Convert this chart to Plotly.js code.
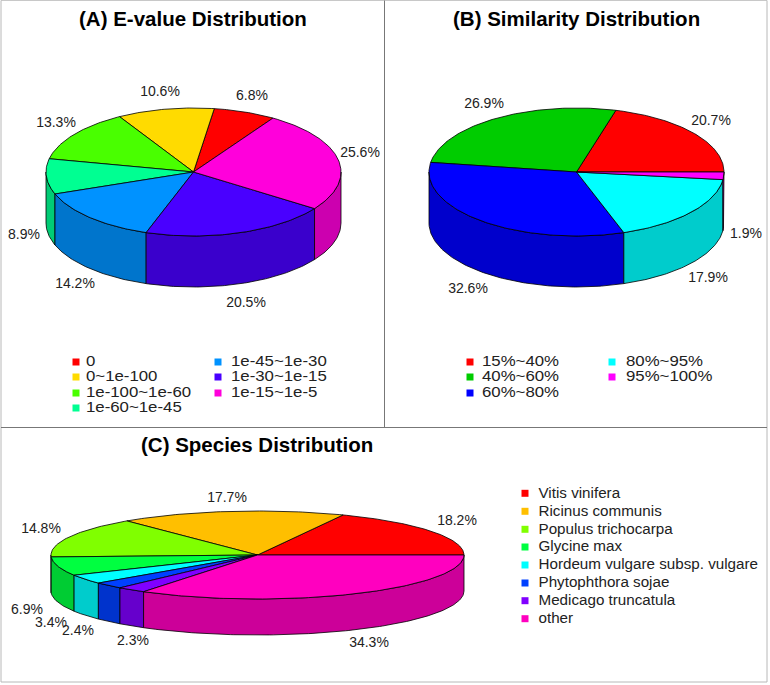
<!DOCTYPE html>
<html>
<head>
<meta charset="utf-8">
<script src="https://cdn.plot.ly/plotly-3.0.1.min.js"></script>
<style>html,body{margin:0;padding:0;background:#fff;overflow:hidden}</style>
</head>
<body>
<div id="chart" style="width:770px;height:685px"></div>
<script>
// ---------- data ----------
const evalueCats = ['0','0~1e-100','1e-100~1e-60','1e-60~1e-45','1e-45~1e-30','1e-30~1e-15','1e-15~1e-5'];
const evalueVals = [6.8,10.6,13.3,8.9,14.2,20.5,25.6];
const evalueCols = ['#FF0000','#FFDB00','#49FF00','#00FF92','#0092FF','#4900FF','#FF00DB'];

const simCats = ['15%~40%','40%~60%','60%~80%','80%~95%','95%~100%'];
const simVals = [20.7,26.9,32.6,17.9,1.9];
const simCols = ['#FF0000','#00CC00','#0000FF','#00FFFF','#FF00FF'];

const speciesCats = ['Vitis vinifera','Ricinus communis','Populus trichocarpa','Glycine max','Hordeum vulgare subsp. vulgare','Phytophthora sojae','Medicago truncatula','other'];
const speciesVals = [18.2,17.7,14.8,6.9,3.4,2.4,2.3,34.3];
const speciesCols = ['#FF0000','#FFBF00','#80FF00','#00FF40','#00FFFF','#0040FF','#8000FF','#FF00BF'];

// ---------- layout of each panel (pixel space of the page) ----------
const panels = [
  {title:'(A) E-value Distribution', tx:193, ty:18, cats:evalueCats, vals:evalueVals, cols:evalueCols,
   cx:193.5, cy:172, rx:147.5, ry:64, depth:51, start:57.4, legendSize:14, legendStretch:1.2,
   labelX:[252,160,56,24,75,246,360], labelY:[96,92,123,235,284,303,153],
   legendMarkerX:[76,76,76,76,218,218,218], legendTextX:[86,86,86,86,231,231,231], legendY:[362,377,393,408,362,377,393]},
  {title:'(B) Similarity Distribution', tx:576, ty:18, cats:simCats, vals:simVals, cols:simCols,
   cx:576.5, cy:172, rx:147.5, ry:64, depth:51, start:0, legendSize:14, legendStretch:1.2,
   labelX:[711,484,468,708,746], labelY:[121,104,289,278,234],
   legendMarkerX:[470,470,470,612,612], legendTextX:[482,482,482,626,626], legendY:[362,377,393,362,377]},
  {title:'(C) Species Distribution', tx:257, ty:444, cats:speciesCats, vals:speciesVals, cols:speciesCols,
   cx:257.5, cy:555, rx:206.5, ry:44, depth:36, start:0, legendSize:15.2, legendStretch:1,
   labelX:[457,227,41,27,51,78,133,369], labelY:[521,498,529,610,623,631,641,643],
   legendMarkerX:[525,525,525,525,525,525,525,525], legendTextX:[538.5,538.5,538.5,538.5,538.5,538.5,538.5,538.5],
   legendY:[493.3,511.3,529.3,547,565,583,600.7,618.7]}
];

const FONT = '"Liberation Sans", Arial, sans-serif';
const TXT = '#222222';

function shade(hex){
  const n = parseInt(hex.slice(1),16);
  const c = [(n>>16)&255,(n>>8)&255,n&255].map(v=>Math.round(v*0.8));
  return 'rgb('+c.join(',')+')';
}
function arc(p,a,b,dy){
  const xs=[],ys=[];
  const n=Math.max(2,Math.ceil((b-a)));
  for(let i=0;i<=n;i++){
    const t=(a+(b-a)*i/n)*Math.PI/180;
    xs.push(p.cx+p.rx*Math.cos(t));
    ys.push(p.cy-p.ry*Math.sin(t)+dy);
  }
  return [xs,ys];
}
function poly(xs,ys,fill){
  return {type:'scatter',mode:'lines',x:xs,y:ys,fill:'toself',fillcolor:fill,
          line:{color:'#000000',width:0.8},hoverinfo:'skip',showlegend:false};
}

const traces=[];
const stretched=[];
panels.forEach(p=>{
  const total=p.vals.reduce((s,v)=>s+v,0);
  let ang=p.start;
  const ranges=p.vals.map(v=>{const a=ang;ang+=v/total*360;return [a,ang];});
  // walls (only the front half of the rim is visible)
  ranges.forEach((r,i)=>{
    [[180,360],[540,720]].forEach(w=>{
      const a=Math.max(r[0],w[0]),b=Math.min(r[1],w[1]);
      if(b>a){
        const top=arc(p,a,b,0),bot=arc(p,a,b,p.depth);
        traces.push(poly(top[0].concat(bot[0].slice().reverse(),[top[0][0]]),
                         top[1].concat(bot[1].slice().reverse(),[top[1][0]]),shade(p.cols[i])));
      }
    });
  });
  // top faces
  ranges.forEach((r,i)=>{
    const top=arc(p,r[0],r[1],0);
    traces.push(poly([p.cx].concat(top[0],[p.cx]),[p.cy].concat(top[1],[p.cy]),p.cols[i]));
  });
  // percentage labels
  traces.push({type:'scatter',mode:'text',x:p.labelX,y:p.labelY,
    text:p.vals.map(v=>v.toFixed(1)+'%'),textposition:'middle center',
    textfont:{family:FONT,size:14,color:TXT},hoverinfo:'skip',showlegend:false});
  // legend keys and labels
  traces.push({type:'scatter',mode:'markers',x:p.legendMarkerX,y:p.legendY,
    marker:{symbol:'square',size:7,color:p.cols,line:{width:0}},hoverinfo:'skip',showlegend:false});
  if(p.legendStretch!==1) stretched.push({index:traces.length,factor:p.legendStretch});
  traces.push({type:'scatter',mode:'text',x:p.legendTextX,y:p.legendY.map(v=>v+0.7),text:p.cats,
    textposition:'middle right',textfont:{family:FONT,size:p.legendSize,color:TXT},hoverinfo:'skip',showlegend:false});
});

const hidden={visible:false,fixedrange:true};
const frame=(x0,y0,x1,y1,c,w)=>({type:'line',xref:'x',yref:'y',x0,y0,x1,y1,line:{color:c,width:w},layer:'below'});
const layout={
  width:770,height:685,margin:{l:0,r:0,t:0,b:0},paper_bgcolor:'#ffffff',plot_bgcolor:'#ffffff',
  xaxis:Object.assign({range:[0,770]},hidden),
  yaxis:Object.assign({range:[685,0]},hidden),
  showlegend:false,
  shapes:[
    frame(1,0.5,767,0.5,'#c8c8c8',1),
    frame(1,0.5,1,682,'#b8b8b8',1),
    frame(767,0.5,767,682,'#b8b8b8',1),
    frame(1,682,767,682,'#b8b8b8',1),
    frame(384.5,0.5,384.5,427.5,'#777777',1),
    frame(1,427.5,767,427.5,'#777777',1)
  ],
  annotations:panels.map(p=>({x:p.tx,y:p.ty,xref:'x',yref:'y',text:'<b>'+p.title+'</b>',showarrow:false,
    xanchor:'center',yanchor:'middle',font:{family:FONT,size:20.5,color:'#000000'}}))
};
Plotly.newPlot('chart',traces,layout,{displayModeBar:false,staticPlot:true}).then(()=>{
  // the reference's two upper legends are horizontally stretched
  const groups=document.querySelectorAll('.scatterlayer .trace');
  stretched.forEach(s=>{
    groups[s.index].querySelectorAll('text').forEach(t=>{
      t.setAttribute('textLength',t.getComputedTextLength()*s.factor);
      t.setAttribute('lengthAdjust','spacingAndGlyphs');
    });
  });
});
</script>
</body>
</html>
